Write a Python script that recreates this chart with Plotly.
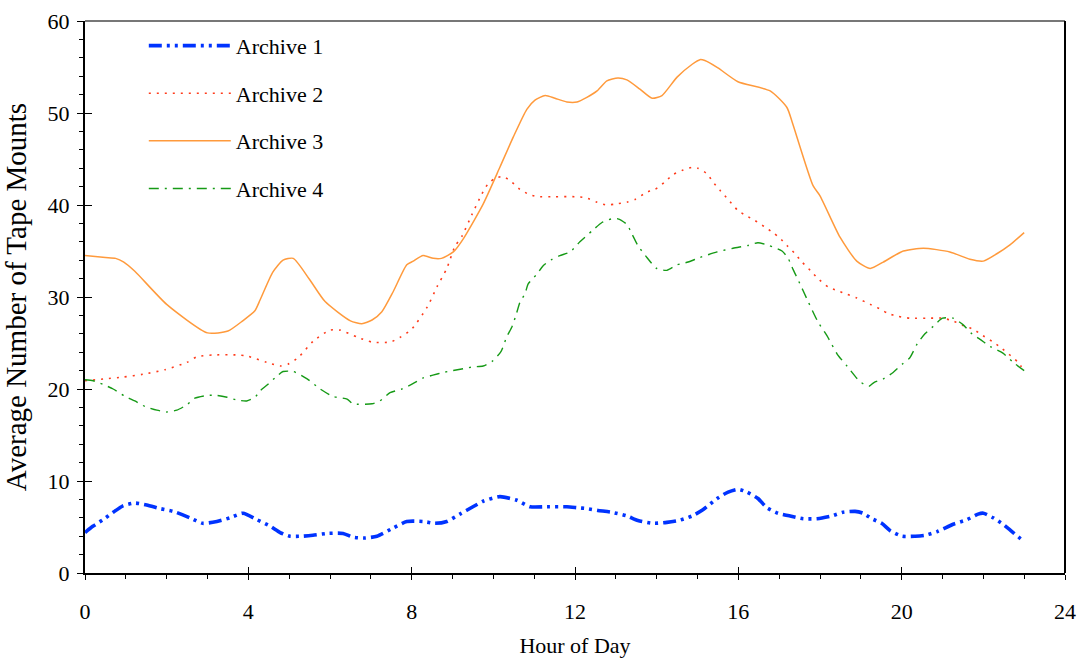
import plotly.graph_objects as go

# ---------------- data ----------------
hours1 = [0, 0.2, 0.44, 0.69, 0.93, 1.22, 1.51, 1.84, 2.16, 2.57, 2.88, 3.23, 3.55, 3.87, 4.21, 4.53,
          4.78, 5.02, 5.31, 5.58, 5.93, 6.32, 6.56, 6.86, 7.15, 7.55, 7.88, 8.28, 8.57, 8.86, 9.18,
          9.5, 9.75, 10.16, 10.58, 10.9, 11.31, 11.8, 12.05, 12.29, 12.56, 12.9, 13.27, 13.54, 13.91,
          14.25, 14.53, 14.87, 15.14, 15.48, 15.75, 15.99, 16.21, 16.48, 16.7, 16.97, 17.27, 17.59,
          17.93, 18.29, 18.56, 18.86, 19.05, 19.27, 19.51, 19.72, 20.01, 20.33, 20.57, 20.87, 21.26,
          21.6, 21.87, 22.0, 22.24, 22.48, 22.73, 23.0]
archive1 = [4.4, 5.1, 5.8, 6.6, 7.3, 7.6, 7.4, 7.0, 6.7, 6.0, 5.4, 5.6, 6.0, 6.5, 5.8, 5.1,
            4.4, 4.0, 4.0, 4.1, 4.3, 4.3, 3.9, 3.8, 4.0, 4.9, 5.6, 5.6, 5.4, 5.6, 6.4,
            7.2, 7.8, 8.3, 7.9, 7.2, 7.2, 7.2, 7.1, 7.0, 6.8, 6.6, 6.2, 5.7, 5.4,
            5.5, 5.7, 6.2, 6.9, 8.1, 8.8, 9.1, 8.8, 8.1, 7.1, 6.5, 6.2, 5.9,
            5.9, 6.2, 6.6, 6.7, 6.5, 5.9, 5.4, 4.6, 4.0, 4.0, 4.1, 4.5, 5.3,
            5.8, 6.4, 6.5, 6.0, 5.3, 4.4, 3.4]

hours2 = [0, 0.49, 0.94, 1.42, 1.96, 2.5, 2.74, 3.13, 3.72, 3.96, 4.45, 4.78, 4.97, 5.22, 5.59,
          6.0, 6.25, 6.69, 7.03, 7.47, 7.71, 8.0, 8.38, 8.62, 8.86, 9.06, 9.23, 9.48, 9.72, 9.87,
          10.04, 10.24, 10.45, 10.65, 10.9, 11.14, 11.51, 12.0, 12.25, 12.54, 12.78, 12.98, 13.27,
          13.47, 13.76, 13.96, 14.2, 14.4, 14.65, 14.87, 15.01, 15.23, 15.38, 15.55, 15.75, 15.99,
          16.21, 16.41, 16.65, 16.85, 17.02, 17.19, 17.39, 17.56, 17.76, 17.95, 18.2, 18.42, 18.66,
          18.9, 19.23, 19.47, 19.67, 19.91, 20.2, 20.77, 21.0, 21.26, 21.5, 21.75, 21.99, 22.24,
          22.46, 22.85, 23.0]
archive2 = [20.9, 21.1, 21.3, 21.6, 22.1, 22.9, 23.5, 23.7, 23.7, 23.6, 22.9, 22.5, 22.7, 23.4, 25.2,
            26.4, 26.4, 25.6, 25.1, 25.1, 25.6, 26.5, 28.9, 31.1, 33.1, 35.5, 36.6, 39.0, 41.2, 42.3,
            42.9, 43.1, 42.5, 41.7, 41.1, 40.9, 40.9, 40.9, 40.8, 40.3, 40.0, 40.1, 40.3,
            40.6, 41.4, 41.7, 42.5, 43.3, 43.8, 44.1, 44.0, 43.4, 42.5, 41.6, 40.6, 39.4,
            38.8, 38.3, 37.6, 37.0, 36.4, 35.6, 34.7, 33.8, 32.9, 32.0, 31.1, 30.7, 30.3,
            29.9, 29.2, 28.7, 28.2, 27.9, 27.7, 27.7, 27.7, 27.4, 26.9, 26.5, 25.8, 25.1,
            24.4, 22.9, 22.0]

hours3 = [0, 0.5, 0.75, 0.95, 1.22, 2.0, 3.0, 3.5, 3.86, 4.16, 4.29, 4.6, 4.85, 5.1, 5.5, 5.88,
          6.5, 6.78, 7.03, 7.27, 7.55, 7.88, 8.04, 8.28, 8.53, 8.73, 9.02, 9.26, 9.75, 10.16,
          10.49, 10.82, 11.02, 11.27, 11.51, 11.8, 12.05, 12.29, 12.54, 12.78, 13.05, 13.27,
          13.59, 13.89, 14.13, 14.5, 14.87, 15.06, 15.18, 15.5, 15.99, 16.78, 17.19, 17.32,
          17.83, 18.0, 18.49, 18.9, 19.23, 19.55, 20.04, 20.53, 21.18, 21.67, 22.0, 22.33,
          22.66, 23.0]
archive3 = [34.5, 34.3, 34.2, 33.8, 32.8, 29.2, 26.1, 26.3, 27.4, 28.5, 29.7, 32.7, 34.0, 34.2, 31.9, 29.5,
            27.4, 27.1, 27.5, 28.4, 30.6, 33.5, 33.9, 34.5, 34.2, 34.2, 34.9, 36.3, 40.1, 44.1,
            47.4, 50.4, 51.4, 51.9, 51.6, 51.2, 51.2, 51.7, 52.4, 53.5, 53.8, 53.6,
            52.6, 51.6, 51.9, 53.9, 55.3, 55.8, 55.7, 54.9, 53.4, 52.4, 50.6, 49.0,
            42.1, 41.0, 36.5, 33.9, 33.1, 33.8, 35.0, 35.3, 34.9, 34.1, 33.9, 34.7,
            35.7, 37.0]

hours4 = [0, 0.2, 0.44, 0.69, 0.98, 1.22, 1.47, 1.76, 2.0, 2.25, 2.5, 2.69, 2.99, 3.23, 3.48, 3.72,
          3.96, 4.16, 4.29, 4.45, 4.7, 4.85, 5.1, 5.44, 5.76, 6.07, 6.42, 6.56, 7.03, 7.22, 7.47,
          7.76, 8.04, 8.28, 8.52, 8.77, 9.26, 9.5, 9.75, 9.97, 10.19, 10.33, 10.46, 10.56, 10.65,
          10.78, 10.85, 11.07, 11.22, 11.44, 11.63, 11.88, 12.12, 12.42, 12.66, 12.9, 13.05, 13.27,
          13.4, 13.54, 13.76, 14.0, 14.25, 14.5, 14.77, 15.06, 15.48, 15.87, 16.24, 16.48, 16.75,
          17.07, 17.22, 17.34, 17.46, 17.71, 17.95, 18.17, 18.42, 18.66, 18.98, 19.2, 19.32, 19.55,
          19.79, 20.04, 20.2, 20.38, 20.57, 20.77, 21.0, 21.26, 21.5, 21.72, 21.92, 22.17, 22.48,
          22.73, 23.0]
archive4 = [21.0, 20.9, 20.5, 20.0, 19.2, 18.7, 18.1, 17.7, 17.5, 17.7, 18.3, 19.0, 19.3, 19.3, 19.1, 18.8,
            18.7, 19.1, 19.8, 20.4, 21.4, 21.9, 21.9, 21.1, 20.0, 19.2, 18.9, 18.4, 18.4, 18.7, 19.6,
            20.0, 20.6, 21.2, 21.5, 21.8, 22.2, 22.4, 22.5, 23.0, 24.1, 25.7, 26.8, 28.1, 29.4,
            30.4, 31.4, 32.5, 33.4, 34.1, 34.5, 34.9, 36.0, 37.2, 38.1, 38.5, 38.5, 37.9,
            36.8, 35.6, 34.3, 33.1, 32.9, 33.5, 33.8, 34.3, 34.9, 35.3, 35.6, 35.9, 35.6,
            35.0, 34.2, 33.0, 31.9, 29.5, 27.3, 25.8, 23.8, 22.5, 20.8, 20.3, 20.7, 21.1,
            21.8, 22.8, 23.4, 24.9, 26.0, 26.8, 27.7, 27.7, 27.0, 26.0, 25.4, 24.6, 23.9,
            22.9, 22.0]

series_names = ["Archive 1", "Archive 2", "Archive 3", "Archive 4"]
x_tick_vals = [0, 4, 8, 12, 16, 20, 24]
y_tick_vals = [0, 10, 20, 30, 40, 50, 60]

# ---------------- styles ----------------
FONT = "Liberation Serif, Times New Roman, serif"
styles = [
    dict(color="#0033ff", width=3.6, dash="13px,5px,3px,5px,3px,5px"),
    dict(color="#ff3a1a", width=1.6, dash="2px,6px"),
    dict(color="#ff9a3c", width=1.5, dash="solid"),
    dict(color="#169a16", width=1.4, dash="10px,6px,2px,6px"),
]

fig = go.Figure()
for i, (xs, ys) in enumerate([(hours1, archive1), (hours2, archive2),
                              (hours3, archive3), (hours4, archive4)]):
    fig.add_trace(go.Scatter(
        x=xs, y=ys, mode="lines", name=series_names[i],
        line=dict(shape="spline", smoothing=0.6, **styles[i]),
        legendgroup=f"g{i}",
    ))

# invisible trace on overlay axes to get the inside half of crossing ticks
fig.add_trace(go.Scatter(x=[0, 24], y=[0, 60], xaxis="x2", yaxis="y2",
                         mode="lines", line=dict(width=0), showlegend=False,
                         hoverinfo="skip"))

fig.update_layout(
    width=1082, height=665,
    margin=dict(l=85, r=17, t=21, b=92, autoexpand=False),
    paper_bgcolor="white", plot_bgcolor="white",
    font=dict(family=FONT, size=22, color="black"),
    showlegend=True,
    legend=dict(x=0.06, y=0.993, xanchor="left", yanchor="top",
                bgcolor="rgba(0,0,0,0)", borderwidth=0,
                font=dict(family=FONT, size=22, color="black"),
                itemwidth=82, tracegroupgap=16),
    xaxis=dict(range=[0, 24], tickvals=x_tick_vals, ticks="outside", ticklen=5,
               tickwidth=1.3, tickcolor="black", automargin=False,
               minor=dict(dtick=1, ticks="outside", ticklen=4, tickcolor="black", tickwidth=1),
               showline=True, linecolor="black", linewidth=2, showgrid=False, zeroline=False,
               ticklabelstandoff=13,
               title=dict(text="Hour of Day", font=dict(size=22), standoff=14)),
    yaxis=dict(range=[0, 60], tickvals=y_tick_vals, ticks="outside", ticklen=6,
               tickwidth=1.3, tickcolor="black", automargin=False,
               minor=dict(dtick=2, ticks="outside", ticklen=4, tickcolor="black", tickwidth=1),
               showline=True, linecolor="black", linewidth=2, showgrid=False, zeroline=False,
               ticklabelstandoff=3,
               title=dict(text="Average Number of Tape Mounts", font=dict(size=29), standoff=13)),
    xaxis2=dict(overlaying="x", matches="x", range=[0, 24], tickvals=x_tick_vals,
                ticks="inside", ticklen=6, tickwidth=1.3, tickcolor="black",
                showticklabels=False, showline=False, showgrid=False, zeroline=False),
    yaxis2=dict(overlaying="y", matches="y", range=[0, 60], tickvals=y_tick_vals,
                ticks="inside", ticklen=7, tickwidth=1.3, tickcolor="black",
                showticklabels=False, showline=False, showgrid=False, zeroline=False),
    shapes=[
        dict(type="line", xref="paper", yref="paper", x0=0, x1=1, y0=1, y1=1,
             line=dict(color="#777777", width=2)),
        dict(type="line", xref="paper", yref="paper", x0=1, x1=1, y0=0, y1=1,
             line=dict(color="black", width=2)),
    ],
)

fig.write_html("out.html")
